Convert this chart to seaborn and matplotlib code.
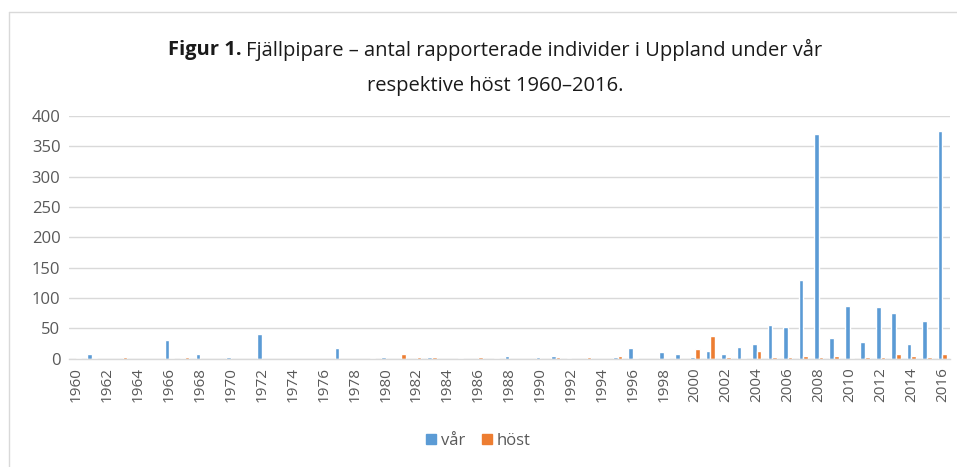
import pandas as pd
import matplotlib.pyplot as plt
import matplotlib.patches as mpatches
from matplotlib.lines import Line2D
import seaborn as sns

# Fjällpipare i Uppland, vår / höst 1960-2016
years = list(range(1960, 2017))
var_counts = [0, 8, 0, 0, 0, 0, 30, 1, 8, 0,
              2, 0, 41, 0, 0, 0, 0, 18, 0, 0,
              2, 0, 0, 2, 0, 1, 0, 0, 4, 0,
              2, 4, 1, 0, 0, 3, 17, 0, 11, 7,
              2, 13, 8, 20, 24, 55, 52, 129, 370, 34,
              87, 28, 85, 76, 24, 62, 375]
host_counts = [1, 1, 0, 3, 0, 0, 1, 3, 0, 0,
               0, 0, 0, 0, 0, 0, 0, 0, 0, 1,
               0, 8, 2, 3, 0, 0, 2, 1, 0, 0,
               0, 2, 0, 2, 0, 4, 1, 0, 1, 0,
               16, 38, 3, 1, 13, 3, 3, 4, 3, 4,
               1, 2, 2, 8, 5, 2, 8]
series_names = ["vår", "höst"]
colors = {"vår": "#5B9BD5", "höst": "#ED7D31"}
yticks = [0, 50, 100, 150, 200, 250, 300, 350, 400]

df = pd.DataFrame({
    "year": years * 2,
    "season": ["vår"] * len(years) + ["höst"] * len(years),
    "count": var_counts + host_counts,
})

sns.set_theme(style="white")
plt.rcParams["font.family"] = ["Open Sans", "DejaVu Sans"]
grey = "#595959"

fig = plt.figure(figsize=(9.57, 4.67), dpi=100)
ax = fig.add_axes([0.0718, 0.232, 0.921, 0.5196])

sns.barplot(data=df, x="year", y="count", hue="season", hue_order=series_names,
            palette=colors, width=0.6, ax=ax, legend=False, saturation=1)

ax.set_ylim(0, 400)
ax.set_yticks(yticks)
ax.set_yticklabels([str(v) for v in yticks], fontsize=12, color=grey)
ax.yaxis.grid(True, color="#D9D9D9", linewidth=1)
ax.set_axisbelow(True)

ax.set_xticks(range(0, len(years), 2))
ax.set_xticklabels([str(y) for y in years[::2]], rotation=90, fontsize=11, color=grey)
ax.set_xlim(-0.5, len(years) - 0.5)
ax.tick_params(axis="both", length=0, pad=6)
ax.set_xlabel("")
ax.set_ylabel("")
for side in ["top", "right", "left"]:
    ax.spines[side].set_visible(False)
ax.spines["bottom"].set_color("#D9D9D9")
ax.spines["bottom"].set_linewidth(1)

# titel, första raden i två delar (fet + normal), centrerad
tsize = 14.5
tcol = "#1a1a1a"
t1 = fig.text(0, 0.892, "Figur 1.", fontsize=tsize, fontweight="bold",
              color=tcol, ha="left", va="center")
t2 = fig.text(0, 0.892, "Fjällpipare – antal rapporterade individer i Uppland under vår",
              fontsize=tsize, color=tcol, ha="left", va="center")
fig.canvas.draw()
w1 = t1.get_window_extent().width / fig.bbox.width
w2 = t2.get_window_extent().width / fig.bbox.width
gap = 0.005
x0 = 0.517 - (w1 + gap + w2) / 2
t1.set_x(x0)
t2.set_x(x0 + w1 + gap)
fig.text(0.517, 0.816, "respektive höst 1960–2016.", fontsize=tsize,
         color=tcol, ha="center", va="center")

# diagramram
fig.add_artist(Line2D([0.0095, 0.0095], [0, 0.974], color="#D9D9D9", linewidth=1))
fig.add_artist(Line2D([0.0095, 1], [0.974, 0.974], color="#D9D9D9", linewidth=1))

handles = [mpatches.Patch(color=colors[s], label=s) for s in series_names]
leg = fig.legend(handles=handles, loc="center", bbox_to_anchor=(0.5, 0.056), ncol=2,
                 frameon=False, fontsize=12, handlelength=0.6, handleheight=0.6,
                 handletextpad=0.3, columnspacing=1.0)
for txt in leg.get_texts():
    txt.set_color(grey)

fig.savefig("out.png", dpi=100)
